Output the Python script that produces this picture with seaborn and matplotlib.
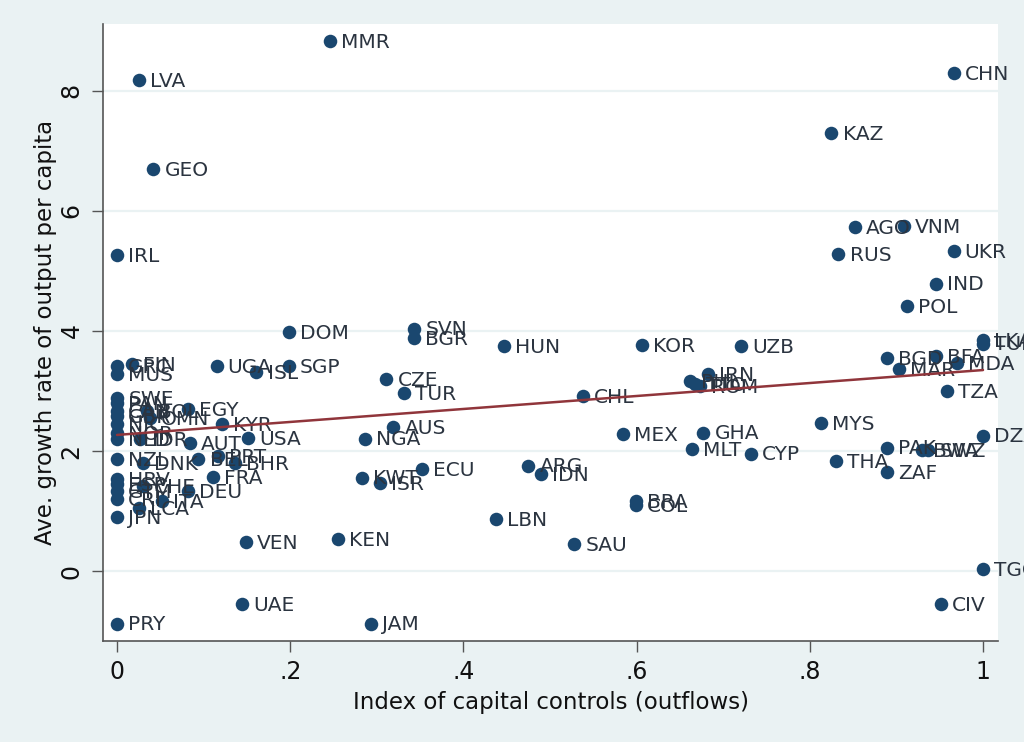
import numpy as np
import pandas as pd
import seaborn as sns
import matplotlib.pyplot as plt
from matplotlib.transforms import offset_copy

# country codes, index of capital controls (outflows), avg growth of output per capita
codes = ["MMR", "LVA", "CHN", "KAZ", "GEO", "AGO", "VNM", "IRL", "RUS", "UKR",
         "IND", "POL", "DOM", "SVN", "BGR", "HUN", "KOR", "UZB", "LKA", "TUN",
         "BGD", "BFA", "MAR", "MDA", "TZA", "MYS", "DZA", "PAK", "BWA", "SWZ",
         "THA", "ZAF", "TGO", "CIV", "CHL", "MEX", "GHA", "MLT", "CYP", "IRN",
         "PHL", "TTO", "ROM", "BRA", "COL", "LBN", "SAU", "ARG", "IDN", "ECU",
         "KWT", "ISR", "NGA", "AUS", "CZE", "TUR", "KEN", "VEN", "UAE", "JAM",
         "PRY", "SGP", "UGA", "ISL", "USA", "KYR", "EGY", "AUT", "GRC", "FIN",
         "MUS", "SWE", "PAN", "CAN", "GBR", "NIC", "NOR", "NLD", "BOL", "OMN",
         "IDR", "NZL", "DNK", "BEL", "PRT", "BHR", "FRA", "HRV", "ESP", "GTM",
         "CRI", "CHE", "DEU", "ITA", "LCA", "JPN"]
ctrl = [0.246, 0.025, 0.966, 0.825, 0.042, 0.852, 0.909, 0.0, 0.833, 0.966,
        0.946, 0.912, 0.198, 0.343, 0.343, 0.447, 0.606, 0.721, 1.0, 1.0,
        0.889, 0.946, 0.903, 0.970, 0.958, 0.813, 1.0, 0.889, 0.929, 0.937,
        0.830, 0.889, 1.0, 0.951, 0.538, 0.584, 0.677, 0.664, 0.732, 0.682,
        0.662, 0.667, 0.673, 0.599, 0.599, 0.438, 0.528, 0.475, 0.489, 0.352,
        0.283, 0.304, 0.286, 0.319, 0.311, 0.331, 0.255, 0.149, 0.144, 0.293,
        0.0, 0.198, 0.115, 0.161, 0.151, 0.121, 0.082, 0.084, 0.0, 0.017,
        0.0, 0.0, 0.0, 0.0, 0.0, 0.0, 0.0, 0.0, 0.035, 0.038,
        0.027, 0.0, 0.030, 0.094, 0.117, 0.136, 0.111, 0.0, 0.0, 0.0,
        0.0, 0.030, 0.082, 0.052, 0.025, 0.0]
growth = [8.83, 8.17, 8.30, 7.30, 6.69, 5.73, 5.74, 5.26, 5.28, 5.33,
          4.79, 4.42, 3.98, 4.04, 3.88, 3.75, 3.77, 3.75, 3.85, 3.79,
          3.55, 3.58, 3.36, 3.46, 3.00, 2.47, 2.26, 2.06, 2.02, 2.02,
          1.83, 1.65, 0.04, -0.54, 2.92, 2.28, 2.31, 2.03, 1.96, 3.29,
          3.17, 3.12, 3.09, 1.17, 1.10, 0.87, 0.46, 1.76, 1.62, 1.70,
          1.56, 1.47, 2.21, 2.40, 3.20, 2.97, 0.54, 0.48, -0.55, -0.87,
          -0.87, 3.41, 3.41, 3.32, 2.22, 2.45, 2.70, 2.14, 3.42, 3.45,
          3.28, 2.89, 2.80, 2.67, 2.59, 2.45, 2.30, 2.20, 2.67, 2.55,
          2.20, 1.87, 1.80, 1.87, 1.92, 1.80, 1.57, 1.53, 1.45, 1.33,
          1.20, 1.42, 1.34, 1.17, 1.06, 0.90]

# linear fit (end points at x=0 and x=1)
fit_x = [0.0, 1.0]
fit_y = [2.27, 3.35]

x_ticks = [0, 0.2, 0.4, 0.6, 0.8, 1.0]
x_ticklabels = ["0", ".2", ".4", ".6", ".8", "1"]
y_ticks = [0, 2, 4, 6, 8]

df = pd.DataFrame({"code": codes, "ctrl": ctrl, "growth": growth})
fit = pd.DataFrame({"ctrl": fit_x, "growth": fit_y})

sns.set_style("ticks")
plt.rcParams["font.family"] = ["DejaVu Sans"]

bg = "#eaf2f3"
navy = "#1a476f"
maroon = "#90353b"

fig = plt.figure(figsize=(10.24, 7.42), dpi=100, facecolor=bg)
ax = fig.add_axes([0.1006, 0.1361, 0.874, 0.8316])
ax.set_facecolor("white")

for yt in y_ticks:
    ax.axhline(yt, color=bg, lw=1.6, zorder=0)

sns.scatterplot(data=df, x="ctrl", y="growth", ax=ax, color=navy, s=95,
                edgecolor=navy, linewidth=0, zorder=3, legend=False)

# marker labels to the right of each point; the ones at x=1 run off the image edge
trans = offset_copy(ax.transData, fig=fig, x=8, y=-1, units="points")
for c, xv, yv in zip(codes, ctrl, growth):
    ax.text(xv, yv, c, transform=trans, fontsize=14.5, color="#2b3440",
            ha="left", va="center", clip_on=False, zorder=4)

sns.lineplot(data=fit, x="ctrl", y="growth", ax=ax, color=maroon, lw=1.8,
             zorder=5)

ax.set_xlim(-0.0162, 1.0173)
ax.set_ylim(-1.16, 9.11)
ax.set_xticks(x_ticks)
ax.set_xticklabels(x_ticklabels)
ax.set_yticks(y_ticks)
ax.tick_params(axis="both", labelsize=17, length=8, width=1, color="#555555",
               pad=6, labelcolor="#111111")
plt.setp(ax.get_yticklabels(), rotation=90, va="center")

for side in ["top", "right"]:
    ax.spines[side].set_visible(False)
for side in ["left", "bottom"]:
    ax.spines[side].set_color("#555555")
    ax.spines[side].set_linewidth(1.2)

ax.set_xlabel("Index of capital controls (outflows)", fontsize=16.5,
              labelpad=5, color="#111111")
ax.set_ylabel("Ave. growth rate of output per capita", fontsize=16.5,
              labelpad=2, color="#111111")

fig.savefig("out.png", dpi=100, facecolor=bg)
